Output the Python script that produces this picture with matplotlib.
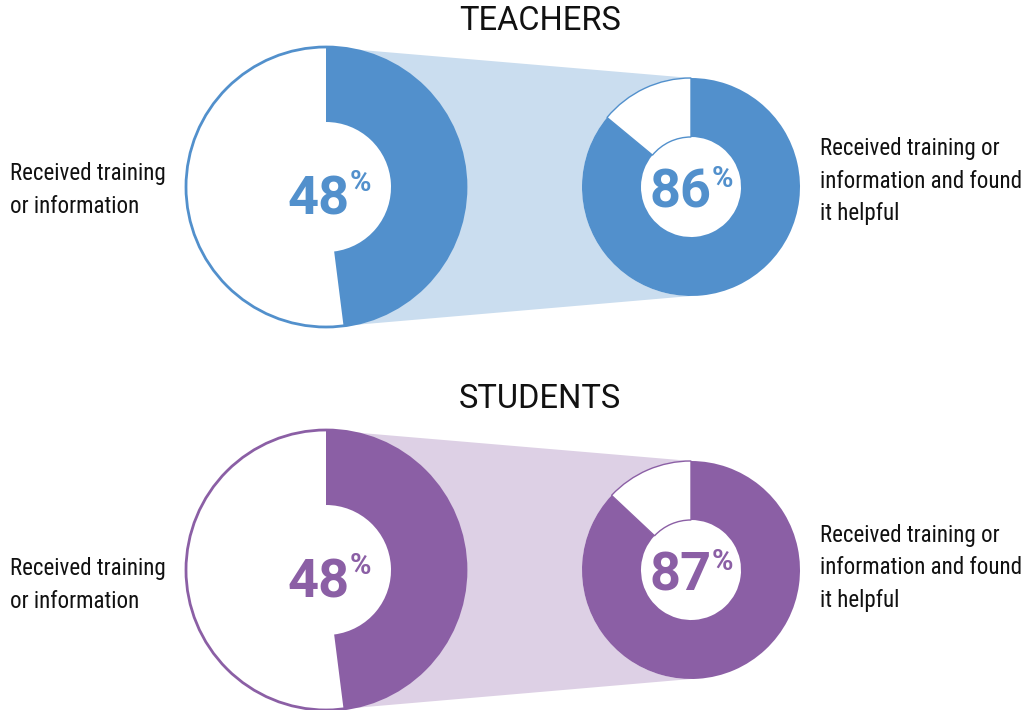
import matplotlib
matplotlib.use("Agg")
import matplotlib.pyplot as plt
from matplotlib.patches import Circle
from matplotlib import font_manager
from matplotlib.font_manager import FontProperties
import numpy as np

# ---- data ----
groups = ["TEACHERS", "STUDENTS"]
received = [48, 48]          # % received training or information
helpful = [86, 87]           # % of those who found it helpful
left_label = "Received training\nor information"
right_label = "Received training or\ninformation and found\nit helpful"

dark_colors = ["#5290CC", "#8B5FA5"]
light_colors = ["#CADDEF", "#DDD0E5"]

# pick a condensed regular font (Roboto Condensed preferred)
cands = []
for f in font_manager.fontManager.ttflist:
    nm = f.name + " " + str(f.fname)
    st = str(f.stretch)
    if f.weight in (400, "normal", "regular") and f.style == "normal" and (
            "Narrow" in nm or "Condensed" in nm or st in ("condensed", "semi-condensed")):
        cands.append(f)
cands.sort(key=lambda f: (0 if "Roboto" in f.name else 1, 1 if "[" in str(f.fname) else 0, f.name))
LABEL_SIZE = 16.6
if cands:
    label_fp = FontProperties(fname=cands[0].fname, size=LABEL_SIZE)
else:
    label_fp = FontProperties(family="Roboto", size=14.6)

fig = plt.figure(figsize=(10.26, 7.10), dpi=100)
ax = fig.add_axes([0, 0, 1, 1])

row_y = [523, 140]
title_y = [689, 311]
lx, rx = 326, 691
R1, r1 = 140, 65
R2, r2 = 109, 50

for i, g in enumerate(groups):
    cy = row_y[i]
    dark, light = dark_colors[i], light_colors[i]
    p1, p2 = received[i], helpful[i]

    ang = np.deg2rad(90 - 360 * p1 / 100)
    px = [lx, rx, rx, lx + R1 * np.cos(ang)]
    py = [cy + R1, cy + R2, cy - R2, cy + R1 * np.sin(ang)]
    ax.fill(px, py, color=light, zorder=1, lw=0)

    ax.add_patch(Circle((lx, cy), R1, facecolor="white", edgecolor=dark, lw=2, zorder=2))
    ax.pie([p1, 100 - p1], colors=[dark, "none"], startangle=90, counterclock=False,
           center=(lx, cy), radius=R1,
           wedgeprops=dict(width=R1 - r1, linewidth=0, zorder=3))

    ax.add_patch(Circle((rx, cy), R2, facecolor="white", edgecolor="none", zorder=2))
    wedges, _ = ax.pie([p2, 100 - p2], colors=[dark, "white"], startangle=90, counterclock=False,
                       center=(rx, cy), radius=R2,
                       wedgeprops=dict(width=R2 - r2, linewidth=0, zorder=3))
    wedges[1].set_edgecolor(dark)
    wedges[1].set_linewidth(1.0)

    ax.text(lx + 24, cy - 13, f"{p1}", ha="right", va="center", fontsize=39,
            fontweight="bold", family="Roboto", color=dark, zorder=5)
    ax.text(lx + 24, cy + 4, "%", ha="left", va="center", fontsize=21,
            fontweight="bold", family="Roboto", color=dark, zorder=5)
    ax.text(rx + 21, cy - 6, f"{p2}", ha="right", va="center", fontsize=39,
            fontweight="bold", family="Roboto", color=dark, zorder=5)
    ax.text(rx + 21, cy + 8, "%", ha="left", va="center", fontsize=21,
            fontweight="bold", family="Roboto", color=dark, zorder=5)

    ax.text(540, title_y[i], g, ha="center", va="center", fontsize=23.5,
            family="Roboto", color="#111111")
    ax.text(10, cy - 3 - (12 if i == 1 else 0), left_label, ha="left", va="center",
            fontproperties=label_fp, color="#111111", linespacing=1.55)
    ax.text(820, cy + 6 - (4 if i == 1 else 0), right_label, ha="left", va="center",
            fontproperties=label_fp, color="#111111", linespacing=1.55)

ax.set_xlim(0, 1026)
ax.set_ylim(0, 710)
ax.set_aspect("equal")
ax.axis("off")
fig.savefig("out.png", dpi=100)
